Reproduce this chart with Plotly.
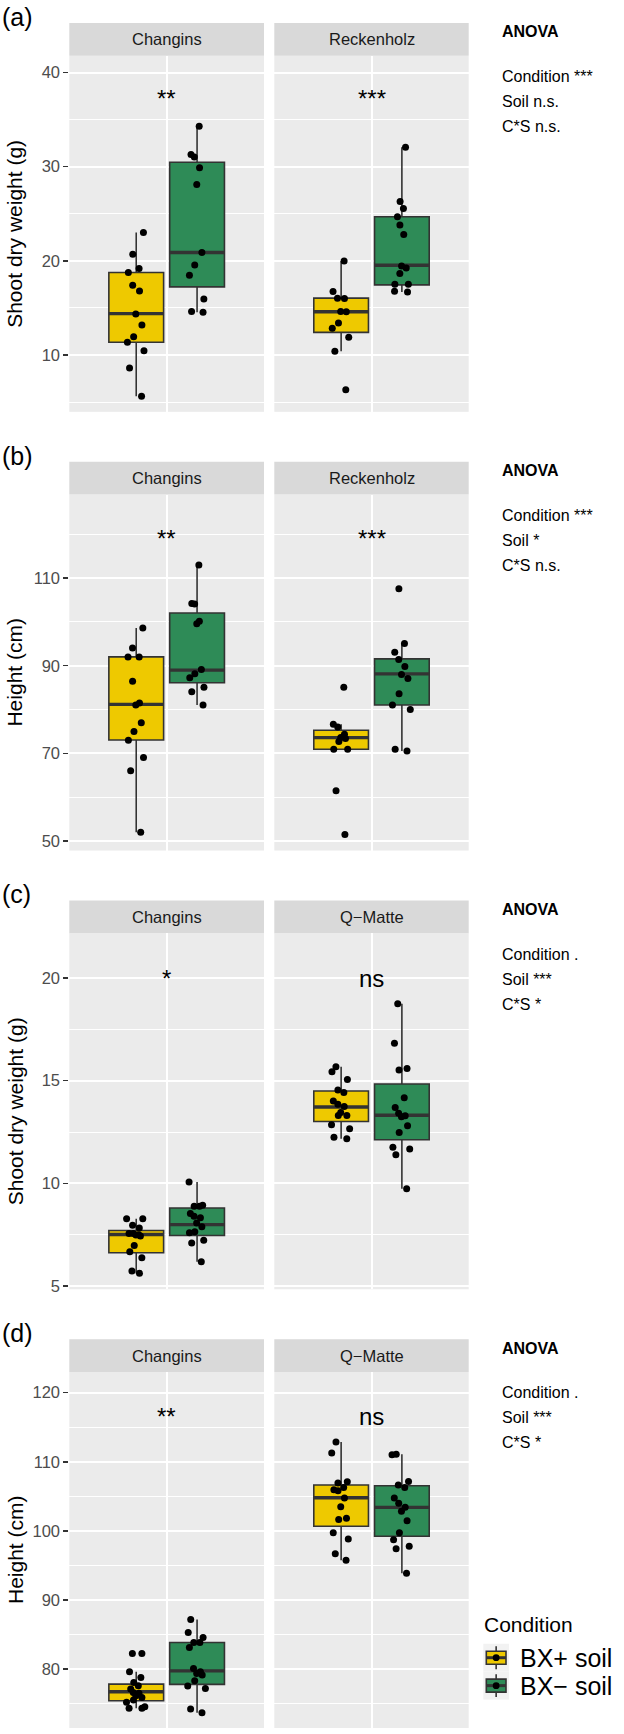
import plotly.graph_objects as go

# ---------------- data ----------------
conditions = ["BX+ soil", "BX\u2212 soil"]
sites_ab = ["Changins", "Reckenholz"]
sites_cd = ["Changins", "Q\u2212Matte"]
panel_tags = ["(a)", "(b)", "(c)", "(d)"]
y_titles = ["Shoot dry weight (g)", "Height (cm)", "Shoot dry weight (g)", "Height (cm)"]

# individual plants (jittered points)
a_chan_plus = [23.0, 20.7, 19.2, 18.76, 17.4, 16.8, 14.35, 13.2, 11.95, 11.35, 10.46, 8.63, 5.63]
a_chan_minus = [34.28, 31.29, 31.04, 29.88, 28.11, 20.88, 19.57, 18.48, 15.94, 14.53, 14.63]
a_reck_plus = [19.99, 16.75, 16.04, 16.0, 14.59, 14.63, 13.4, 12.83, 11.88, 10.4, 6.3]
a_reck_minus = [32.06, 26.31, 25.57, 24.69, 23.8, 22.79, 19.46, 19.25, 18.66, 17.52, 17.52, 16.78, 16.68]
b_chan_plus = [98.62, 94.07, 92.03, 92.03, 86.49, 81.03, 81.48, 77.01, 74.96, 72.99, 69.04, 66.01, 51.98]
b_chan_minus = [113.03, 104.08, 104.24, 100.14, 99.61, 89.14, 88.16, 87.25, 84.06, 85.12, 81.03]
b_reck_plus = [85.12, 76.63, 76.02, 74.35, 73.6, 73.37, 72.68, 70.94, 70.94, 61.46, 51.45]
b_reck_minus = [107.57, 95.06, 93.09, 91.42, 89.82, 88.0, 87.1, 83.61, 81.03, 80.04, 70.56, 70.94]
c_chan_plus = [8.28, 8.28, 7.96, 7.83, 7.56, 7.43, 7.49, 7.56, 7.48, 6.97, 6.67, 6.38, 5.73, 5.62]
c_chan_minus = [10.06, 8.93, 8.88, 8.88, 8.53, 8.40, 8.32, 8.07, 7.88, 7.59, 7.64, 7.23, 7.10, 6.18]
c_qm_plus = [15.68, 15.44, 15.06, 14.55, 14.43, 14.01, 13.85, 13.74, 13.45, 13.30, 13.30, 12.85, 12.66, 12.25, 12.17]
c_qm_minus = [18.75, 16.83, 15.60, 15.52, 14.17, 13.70, 13.41, 13.29, 13.24, 12.80, 12.48, 11.76, 11.67, 11.39, 9.74]
d_chan_plus = [82.26, 82.26, 79.61, 78.81, 78.08, 77.59, 77.12, 76.64, 76.50, 76.15, 75.92, 75.53, 75.20, 74.56, 74.33, 74.33]
d_chan_minus = [87.17, 85.30, 84.58, 83.85, 83.85, 83.13, 80.10, 79.61, 79.38, 79.14, 78.32, 77.55, 77.22, 74.23, 73.70]
d_qm_plus = [112.85, 111.26, 107.12, 106.93, 106.30, 105.97, 105.82, 104.77, 103.51, 101.83, 101.64, 99.72, 98.85, 96.69, 95.77]
d_qm_minus = [111.01, 111.11, 107.16, 106.64, 106.30, 104.77, 103.99, 103.41, 102.84, 101.49, 99.72, 98.71, 97.79, 97.41, 93.89]

# box statistics: [q1, median, q3, lower whisker, upper whisker]
a_chan_plus_box = [11.35, 14.40, 18.76, 5.63, 23.00]
a_chan_minus_box = [17.24, 20.88, 30.47, 14.53, 34.28]
a_reck_plus_box = [12.41, 14.59, 16.04, 10.40, 19.99]
a_reck_minus_box = [17.45, 19.54, 24.69, 16.68, 32.06]
b_chan_plus_box = [73.03, 81.18, 92.03, 51.98, 98.62]
b_chan_minus_box = [86.11, 89.00, 102.04, 81.03, 113.03]
b_reck_plus_box = [70.94, 73.60, 75.26, 70.94, 76.63]
b_reck_minus_box = [81.03, 88.16, 91.57, 70.56, 95.06]
c_chan_plus_box = [6.62, 7.51, 7.70, 5.62, 8.28]
c_chan_minus_box = [7.46, 7.99, 8.80, 6.18, 10.06]
c_qm_plus_box = [13.01, 13.72, 14.50, 12.17, 15.68]
c_qm_minus_box = [12.12, 13.32, 14.84, 9.74, 18.75]
d_chan_plus_box = [75.43, 76.73, 77.84, 74.33, 79.61]
d_chan_minus_box = [77.80, 79.76, 83.85, 73.70, 87.17]
d_qm_plus_box = [100.67, 104.81, 106.64, 95.77, 112.85]
d_qm_minus_box = [99.23, 103.41, 106.54, 93.89, 111.10]

# significance labels (per site) and ANOVA summaries
sig_a = ["**", "***"]
sig_b = ["**", "***"]
sig_c = ["*", "ns"]
sig_d = ["**", "ns"]
anova_a = ["Condition ***", "Soil n.s.", "C*S n.s."]
anova_b = ["Condition ***", "Soil *", "C*S n.s."]
anova_c = ["Condition .", "Soil ***", "C*S *"]
anova_d = ["Condition .", "Soil ***", "C*S *"]

# ---------------- assembly ----------------
rows = [
    dict(sites=sites_ab, pts=[[a_chan_plus, a_chan_minus], [a_reck_plus, a_reck_minus]],
         box=[[a_chan_plus_box, a_chan_minus_box], [a_reck_plus_box, a_reck_minus_box]],
         sig=sig_a, anova=anova_a),
    dict(sites=sites_ab, pts=[[b_chan_plus, b_chan_minus], [b_reck_plus, b_reck_minus]],
         box=[[b_chan_plus_box, b_chan_minus_box], [b_reck_plus_box, b_reck_minus_box]],
         sig=sig_b, anova=anova_b),
    dict(sites=sites_cd, pts=[[c_chan_plus, c_chan_minus], [c_qm_plus, c_qm_minus]],
         box=[[c_chan_plus_box, c_chan_minus_box], [c_qm_plus_box, c_qm_minus_box]],
         sig=sig_c, anova=anova_c),
    dict(sites=sites_cd, pts=[[d_chan_plus, d_chan_minus], [d_qm_plus, d_qm_minus]],
         box=[[d_chan_plus_box, d_chan_minus_box], [d_qm_plus_box, d_qm_minus_box]],
         sig=sig_d, anova=anova_d),
]

# layout / style settings
W, H = 624, 1734
FONT = "Liberation Sans, Arial, Helvetica, sans-serif"
FILLS = ["#EEC900", "#2E8B57"]
EDGE = "#333333"
y_ranges = [[3.97, 41.77], [47.8, 129.1], [4.84, 22.18], [71.49, 122.99]]
y_major = [[10, 20, 30, 40], [50, 70, 90, 110], [5, 10, 15, 20], [80, 90, 100, 110, 120]]
y_minor = [[5, 15, 25, 35], [60, 80, 100, 120], [7.5, 12.5, 17.5], [75, 85, 95, 105, 115]]
sig_y = [37.2, 119.1, 20.0, 116.6]
ROW_PITCH = 440
STRIP_TOP, STRIP_BOT, PLOT_BOT = 23, 56, 413
COLS_PX = [(69.3, 264.0), (274.3, 468.7)]
DODGE = 0.1875
BOXW = 0.3375


def px_x(v):
    return v / W


def px_y(v):
    return 1 - v / H


fig = go.Figure()
layout = dict(
    width=W, height=H, autosize=False,
    margin=dict(l=0, r=0, t=0, b=0),
    paper_bgcolor="white", plot_bgcolor="#EBEBEB",
    font=dict(family=FONT, color="black"),
    boxmode="overlay",
    showlegend=False,
)
shapes, annotations = [], []

for r, row in enumerate(rows):
    off = r * ROW_PITCH
    y_dom = [px_y(PLOT_BOT + off), px_y(STRIP_BOT + off)]
    for c in range(2):
        k = r * 2 + c + 1
        xs = "x" if k == 1 else f"x{k}"
        ys = "y" if k == 1 else f"y{k}"
        xkey = "xaxis" if k == 1 else f"xaxis{k}"
        ykey = "yaxis" if k == 1 else f"yaxis{k}"
        x0p, x1p = COLS_PX[c]
        layout[xkey] = dict(
            domain=[px_x(x0p), px_x(x1p)], anchor=ys, type="linear",
            range=[-0.6, 0.6], tickvals=[0], showticklabels=False, ticks="",
            showgrid=True, gridcolor="white", gridwidth=2, zeroline=False,
            showline=False, fixedrange=True,
        )
        layout[ykey] = dict(
            domain=y_dom, anchor=xs, range=y_ranges[r], tickmode="array",
            tickvals=y_major[r], showgrid=True, gridcolor="white", gridwidth=2,
            zeroline=False, showline=False, fixedrange=True,
            minor=dict(tickmode="array", tickvals=y_minor[r], showgrid=True,
                       gridcolor="white", gridwidth=1, ticks=""),
            showticklabels=(c == 0),
            ticks="outside" if c == 0 else "", ticklen=5, tickwidth=1.4,
            tickcolor=EDGE, tickfont=dict(size=16.5, color="#4D4D4D", family=FONT),
        )
        # facet strip
        shapes.append(dict(type="rect", xref="paper", yref="paper",
                           x0=px_x(x0p), x1=px_x(x1p),
                           y0=px_y(STRIP_BOT + off), y1=px_y(STRIP_TOP + off),
                           fillcolor="#D9D9D9", line=dict(width=0), layer="below"))
        annotations.append(dict(xref="paper", yref="paper",
                                x=px_x((x0p + x1p) / 2), y=px_y((STRIP_TOP + STRIP_BOT) / 2 + off),
                                text=row["sites"][c], showarrow=False,
                                font=dict(size=16.5, color="#1A1A1A"),
                                xanchor="center", yanchor="middle"))
        # significance label
        annotations.append(dict(xref=xs, yref=ys, x=0, y=sig_y[r], text=row["sig"][c],
                                showarrow=False, font=dict(size=24, color="black"),
                                xanchor="center", yanchor="middle"))
        for j in range(2):
            pos = -DODGE if j == 0 else DODGE
            st = row["box"][c][j]
            pts = row["pts"][c][j]
            # the box + whiskers
            fig.add_trace(go.Box(
                x=[pos], q1=[st[0]], median=[st[1]], q3=[st[2]],
                lowerfence=[st[3]], upperfence=[st[4]], width=BOXW,
                fillcolor=FILLS[j], line=dict(color=EDGE, width=1.6),
                whiskerwidth=0, boxpoints=False, name=conditions[j],
                xaxis=xs, yaxis=ys, hoverinfo="skip",
            ))
            # thicker median bar (ggplot fatten = 2)
            fig.add_trace(go.Box(
                x=[pos], q1=[st[1]], median=[st[1]], q3=[st[1]],
                lowerfence=[st[1]], upperfence=[st[1]], width=BOXW,
                fillcolor="rgba(0,0,0,0)", line=dict(color=EDGE, width=3.4),
                whiskerwidth=0, boxpoints=False, name=conditions[j],
                xaxis=xs, yaxis=ys, hoverinfo="skip",
            ))
            # jittered raw points
            fig.add_trace(go.Box(
                x=[pos] * len(pts), y=pts, width=BOXW,
                boxpoints="all", jitter=0.42, pointpos=0,
                fillcolor="rgba(0,0,0,0)", line=dict(color="rgba(0,0,0,0)", width=0),
                whiskerwidth=0, marker=dict(color="black", size=7, line=dict(width=0)),
                name=conditions[j], xaxis=xs, yaxis=ys, hoverinfo="y",
            ))
    # panel tag
    annotations.append(dict(xref="paper", yref="paper", x=px_x(0), y=px_y(17 + off),
                            text=panel_tags[r], showarrow=False, xanchor="left",
                            yanchor="middle", font=dict(size=25, color="black")))
    # y title
    annotations.append(dict(xref="paper", yref="paper", x=px_x(15),
                            y=px_y((STRIP_BOT + PLOT_BOT) / 2 + off),
                            text=y_titles[r], textangle=-90, showarrow=False,
                            xanchor="center", yanchor="middle",
                            font=dict(size=21, color="black")))
    # ANOVA block
    annotations.append(dict(xref="paper", yref="paper", x=px_x(500), y=px_y(32 + off),
                            text="<b>ANOVA</b>", showarrow=False, xanchor="left",
                            yanchor="middle", font=dict(size=16, color="black")))
    for i, line in enumerate(row["anova"]):
        annotations.append(dict(xref="paper", yref="paper", x=px_x(500),
                                y=px_y(77 + 25 * i + off), text=line, showarrow=False,
                                xanchor="left", yanchor="middle",
                                font=dict(size=16, color="black")))

# ---------------- legend (ggplot-style keys) ----------------
LEG_X0, LEG_X1 = 483.3, 509.0
KEY_H = 28.0
KEY_TOP0 = 1648.5
annotations.append(dict(xref="paper", yref="paper", x=px_x(482), y=px_y(1629),
                        text="Condition", showarrow=False, xanchor="left", yanchor="middle",
                        font=dict(size=21, color="black")))
for j, cond in enumerate(conditions):
    t = KEY_TOP0 + j * KEY_H
    cy = t + KEY_H / 2
    cx = (LEG_X0 + LEG_X1) / 2
    shapes.append(dict(type="rect", xref="paper", yref="paper", x0=px_x(LEG_X0), x1=px_x(LEG_X1),
                       y0=px_y(t + KEY_H), y1=px_y(t), fillcolor="#F2F2F2", line=dict(width=0)))
    shapes.append(dict(type="line", xref="paper", yref="paper", x0=px_x(cx), x1=px_x(cx),
                       y0=px_y(t + 2.5), y1=px_y(t + KEY_H - 2.5), line=dict(color=EDGE, width=1.6)))
    shapes.append(dict(type="rect", xref="paper", yref="paper", x0=px_x(486.3), x1=px_x(506.0),
                       y0=px_y(cy + 6.5), y1=px_y(cy - 6.5), fillcolor=FILLS[j],
                       line=dict(color=EDGE, width=1.6)))
    shapes.append(dict(type="line", xref="paper", yref="paper", x0=px_x(486.3), x1=px_x(506.0),
                       y0=px_y(cy), y1=px_y(cy), line=dict(color=EDGE, width=3.0)))
    shapes.append(dict(type="circle", xref="paper", yref="paper", x0=px_x(cx - 3.4), x1=px_x(cx + 3.4),
                       y0=px_y(cy + 3.4), y1=px_y(cy - 3.4), fillcolor="black", line=dict(width=0)))
    annotations.append(dict(xref="paper", yref="paper", x=px_x(518), y=px_y(cy),
                            text=cond, showarrow=False, xanchor="left", yanchor="middle",
                            font=dict(size=25, color="black")))

layout["shapes"] = shapes
layout["annotations"] = annotations
fig.update_layout(**layout)
fig.write_html("out.html", config={"displayModeBar": False, "staticPlot": True},
               post_script="document.body.style.margin='0px';")
